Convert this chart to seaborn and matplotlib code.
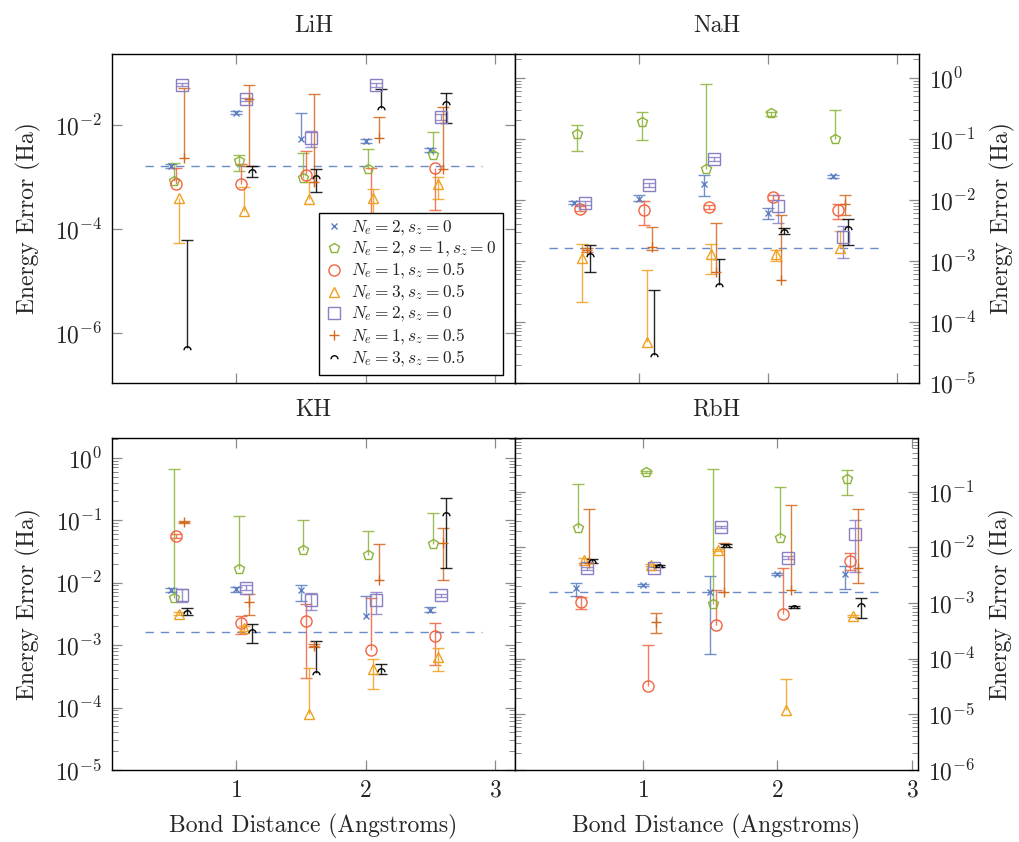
import numpy as np
import matplotlib
matplotlib.use("Agg")
import matplotlib.pyplot as plt
from matplotlib.path import Path
from matplotlib.ticker import FixedLocator, LogLocator, LogFormatterSciNotation, NullLocator, NullFormatter
import seaborn as sns

# bond distances (Angstrom), each series is shifted a little to the right
BOND = [0.5, 1.0, 1.5, 2.0, 2.5]
SHIFT = 0.02
CHEM_ACC = 1.6e-3

LABELS = [r"$N_e=2, s_z=0$", r"$N_e=2, s=1, s_z=0$", r"$N_e=1, s_z=0.5$",
          r"$N_e=3, s_z=0.5$", r"$N_e=2, s_z=0$", r"$N_e=1, s_z=0.5$",
          r"$N_e=3, s_z=0.5$"]
COLORS = ["#5b7dc2", "#8cb43a", "#f26440", "#f0a020", "#8b7fc4", "#d2691e", "#000000"]

# values, lower and upper ends of the bars; rows = series, cols = bond distance
LIH_VAL = [[1.6e-3, 0.0173, 5.3e-3, 5.0e-3, 3.3e-3],
           [8.4e-4, 2.0e-3, 9.8e-4, 1.4e-3, 2.6e-3],
           [7.2e-4, 7.2e-4, 1.1e-3, 1.0e-4, 1.5e-3],
           [3.9e-4, 2.2e-4, 3.8e-4, 4.0e-4, 7.2e-4],
           [0.060, 0.031, 5.7e-3, 0.059, 0.0145],
           [2.3e-3, 0.031, 7.9e-4, 5.7e-3, 1.4e-3],
           [5.1e-7, 1.3e-3, 1.0e-3, 0.021, 0.027]]
LIH_LO = [[1.5e-3, 0.0160, 5.3e-3, 4.6e-3, 3.0e-3],
          [8.4e-4, 1.3e-3, 9.8e-4, 1.4e-3, 2.6e-3],
          [7.2e-4, 7.2e-4, 1.1e-3, 1.0e-4, 2.3e-4],
          [5.5e-5, 2.2e-4, 3.8e-4, 1.0e-4, 3.8e-4],
          [0.056, 0.029, 3.8e-3, 0.055, 0.0125],
          [2.3e-3, 1.6e-3, 7.9e-4, 5.7e-3, 1.4e-3],
          [5.1e-7, 1.0e-3, 5.1e-4, 0.021, 0.011]]
LIH_HI = [[1.8e-3, 0.0185, 0.0168, 5.5e-3, 3.6e-3],
          [1.9e-3, 2.6e-3, 2.9e-3, 3.5e-3, 7.2e-3],
          [1.5e-3, 1.8e-3, 3.2e-3, 1.5e-3, 1.5e-3],
          [3.9e-4, 6.5e-4, 7.9e-4, 5.8e-4, 1.0e-3],
          [0.064, 0.033, 7.6e-3, 0.063, 0.0165],
          [0.051, 0.060, 0.040, 0.014, 0.022],
          [6.2e-5, 1.6e-3, 1.4e-3, 0.049, 0.042]]

NAH_VAL = [[8.9e-3, 0.0105, 0.018, 6.1e-3, 0.0245],
           [0.12, 0.19, 0.032, 0.26, 0.10],
           [7.2e-3, 6.7e-3, 7.6e-3, 0.011, 6.7e-3],
           [1.1e-3, 4.7e-5, 1.3e-3, 1.3e-3, 1.6e-3],
           [8.9e-3, 0.0177, 0.046, 7.9e-3, 2.5e-3],
           [1.5e-3, 1.7e-3, 6.5e-4, 4.8e-4, 8.7e-3],
           [1.25e-3, 2.9e-5, 4.1e-4, 3.1e-3, 3.4e-3]]
NAH_LO = [[8.4e-3, 9.5e-3, 0.0114, 4.9e-3, 0.023],
          [0.064, 0.095, 0.032, 0.24, 0.10],
          [6.6e-3, 3.9e-3, 7.0e-3, 0.010, 4.8e-3],
          [2.1e-4, 4.7e-5, 6.1e-4, 1.0e-3, 1.6e-3],
          [8.3e-3, 0.0165, 0.043, 4.2e-3, 1.1e-3],
          [1.4e-3, 1.5e-3, 6.5e-4, 4.8e-4, 5.6e-3],
          [6.5e-4, 2.9e-5, 4.1e-4, 2.8e-3, 1.8e-3]]
NAH_HI = [[9.4e-3, 0.0118, 0.026, 7.4e-3, 0.026],
          [0.17, 0.28, 0.80, 0.28, 0.30],
          [7.8e-3, 9.6e-3, 8.2e-3, 0.012, 8.5e-3],
          [1.9e-3, 7.1e-4, 1.9e-3, 1.5e-3, 3.1e-3],
          [9.6e-3, 0.019, 0.050, 0.0118, 3.7e-3],
          [1.6e-3, 3.6e-3, 4.1e-3, 5.6e-3, 0.0118],
          [1.8e-3, 3.4e-4, 1.07e-3, 3.4e-3, 4.8e-3]]

KH_VAL = [[7.6e-3, 7.8e-3, 7.6e-3, 2.9e-3, 3.7e-3],
          [5.7e-3, 0.0165, 0.033, 0.0276, 0.041],
          [0.056, 2.3e-3, 2.4e-3, 8.3e-4, 1.4e-3],
          [3.2e-3, 1.85e-3, 8.0e-5, 4.2e-4, 6.5e-4],
          [6.3e-3, 8.3e-3, 5.2e-3, 5.2e-3, 6.3e-3],
          [0.094, 4.9e-3, 9.8e-4, 0.011, 0.043],
          [3.4e-3, 1.7e-3, 3.6e-4, 4.0e-4, 0.125]]
KH_LO = [[7.0e-3, 7.2e-3, 5.1e-3, 2.9e-3, 3.4e-3],
         [5.7e-3, 0.0165, 0.033, 0.0276, 0.041],
         [0.052, 1.5e-3, 3.0e-4, 8.3e-4, 4.8e-4],
         [3.0e-3, 1.7e-3, 8.0e-5, 2.0e-4, 3.9e-4],
         [4.9e-3, 7.6e-3, 3.6e-3, 3.2e-3, 5.9e-3],
         [0.090, 3.0e-3, 9.3e-4, 0.011, 0.011],
         [3.0e-3, 1.1e-3, 3.6e-4, 3.4e-4, 0.017]]
KH_HI = [[8.2e-3, 8.4e-3, 9.3e-3, 6.0e-3, 4.0e-3],
         [0.67, 0.118, 0.10, 0.068, 0.13],
         [0.060, 2.9e-3, 4.5e-3, 5.7e-3, 2.3e-3],
         [3.4e-3, 2.0e-3, 4.3e-4, 6.1e-4, 8.9e-4],
         [7.8e-3, 9.0e-3, 6.9e-3, 7.1e-3, 6.7e-3],
         [0.098, 6.7e-3, 1.03e-3, 0.042, 0.075],
         [3.9e-3, 2.2e-3, 1.15e-3, 4.9e-4, 0.23]]

RBH_VAL = [[1.9e-3, 2.1e-3, 1.6e-3, 3.3e-3, 3.3e-3],
           [0.022, 0.23, 9.8e-4, 0.0149, 0.17],
           [1.05e-3, 3.2e-5, 4.0e-4, 6.3e-4, 5.7e-3],
           [5.9e-3, 4.8e-3, 8.9e-3, 1.2e-5, 5.9e-4],
           [4.2e-3, 4.2e-3, 0.023, 6.5e-3, 0.0174],
           [5.2e-3, 4.6e-4, 1.6e-3, 1.7e-3, 4.2e-3],
           [5.7e-3, 4.6e-3, 0.0107, 8.5e-4, 9.1e-4]]
RBH_LO = [[1.35e-3, 2.0e-3, 1.2e-4, 3.2e-3, 1.8e-3],
          [0.022, 0.22, 9.8e-4, 0.0149, 0.087],
          [7.8e-4, 3.2e-5, 4.0e-4, 6.3e-4, 3.9e-3],
          [5.3e-3, 4.6e-3, 8.5e-3, 1.2e-5, 5.6e-4],
          [3.9e-3, 3.9e-3, 0.022, 6.1e-3, 3.6e-3],
          [5.2e-3, 2.9e-4, 1.6e-3, 1.7e-3, 2.3e-3],
          [5.2e-3, 4.4e-3, 0.0101, 8.0e-4, 5.5e-4]]
RBH_HI = [[2.3e-3, 2.2e-3, 3.1e-3, 3.4e-3, 4.6e-3],
          [0.14, 0.24, 0.26, 0.123, 0.25],
          [1.3e-3, 1.8e-4, 1.7e-3, 4.2e-3, 7.8e-3],
          [6.4e-3, 5.0e-3, 9.3e-3, 4.3e-5, 6.2e-4],
          [4.5e-3, 4.5e-3, 0.024, 6.9e-3, 0.031],
          [0.049, 6.7e-4, 0.0118, 0.058, 0.049],
          [6.2e-3, 4.8e-3, 0.0113, 9.0e-4, 1.25e-3]]

sns.set_theme(style="ticks")
plt.rcParams["font.family"] = ["cmr10", "DejaVu Serif"]
plt.rcParams["mathtext.fontset"] = "cm"
plt.rcParams["axes.formatter.use_mathtext"] = True
plt.rcParams["axes.unicode_minus"] = False
FS = 17

# open arch marker for the last series
arc = Path.arc(0, 180)
ARCH = Path(arc.vertices - np.array([0.0, 0.5]), arc.codes)
MARKERS = ["x", "p", "o", "^", "s", "+", ARCH]
SIZES = [5, 7, 8, 7, 8, 7, 5]


def draw_panel(ax, vals, lows, highs, line_end):
    handles = []
    for i in range(7):
        x = np.array(BOND) + SHIFT * i
        v = np.array(vals[i])
        err = np.vstack([v - np.array(lows[i]), np.array(highs[i]) - v])
        c = ax.errorbar(x, v, yerr=err, marker=MARKERS[i], linestyle="none",
                        color=COLORS[i], mfc="none", mec=COLORS[i], ms=SIZES[i],
                        mew=1.0, elinewidth=1.0, capsize=4, capthick=1.0,
                        zorder=3)
        c[2][0].set_alpha(0.85)
        # no cap on the side where the bar has zero length
        for cap in c[1]:
            yd = np.asarray(cap.get_ydata(), dtype=float)
            cap.set_ydata(np.where(np.isclose(yd, v), np.nan, yd))
            cap.set_alpha(0.85)
        handles.append(c[0])
    ax.plot([0.3, line_end], [CHEM_ACC, CHEM_ACC], ls=(0, (6, 5)),
            color="#6a8cc8", lw=1.0, zorder=2)
    return handles


fig = plt.figure(figsize=(10.19, 8.42), dpi=100)
W, H = 1019, 842
panels = [
    ("LiH", LIH_VAL, LIH_LO, LIH_HI, [112, 54, 515, 383], (0.042, 3.154), (1.1e-7, 0.232), "left", 2.9),
    ("NaH", NAH_VAL, NAH_LO, NAH_HI, [515, 54, 919, 383], (0.039, 3.17), (1e-5, 2.45), "right", 2.9),
    ("KH", KH_VAL, KH_LO, KH_HI, [112, 438, 515, 770], (0.042, 3.154), (1e-5, 2.07), "left", 2.9),
    ("RbH", RBH_VAL, RBH_LO, RBH_HI, [515, 438, 918, 770], (0.048, 3.045), (1e-6, 0.925), "right", 2.8),
]

for k, (name, vals, lows, highs, box, xl, yl, side, xend) in enumerate(panels):
    x0, y0, x1, y1 = box
    ax = fig.add_axes([x0 / W, 1 - y1 / H, (x1 - x0) / W, (y1 - y0) / H])
    ax.set_yscale("log")
    handles = draw_panel(ax, vals, lows, highs, xend)
    ax.set_xlim(*xl)
    ax.set_ylim(*yl)
    ax.set_xticks([1, 2, 3])
    if name == "LiH":
        ax.yaxis.set_major_locator(FixedLocator([1e-6, 1e-4, 1e-2]))
        ax.yaxis.set_minor_locator(NullLocator())
    else:
        ax.yaxis.set_major_locator(LogLocator(base=10, numticks=20))
        ax.yaxis.set_minor_locator(LogLocator(base=10, subs=np.arange(2, 10), numticks=20))
        ax.yaxis.set_minor_formatter(NullFormatter())
    ax.yaxis.set_major_formatter(LogFormatterSciNotation())
    ax.tick_params(which="both", direction="in", top=True, bottom=True,
                   left=True, right=True, color="#8a8a8a", labelsize=FS)
    ax.tick_params(which="major", length=7, width=0.9, pad=7)
    ax.tick_params(which="minor", length=4, width=0.7)
    if side == "right":
        ax.tick_params(labelleft=False, labelright=True)
        ax.yaxis.set_label_position("right")
    ax.set_ylabel("Energy Error (Ha)", fontsize=FS, labelpad=10)
    if k < 2:
        ax.tick_params(labelbottom=False)
    else:
        ax.set_xlabel("Bond Distance (Angstroms)", fontsize=FS, labelpad=9)
    ax.set_title(name, fontsize=FS, pad=16)
    for sp in ax.spines.values():
        sp.set_color("black")
        sp.set_linewidth(1.0)
    ax.grid(False)
    if name == "LiH":
        leg = ax.legend(handles, LABELS, loc="lower right", bbox_to_anchor=(0.97, 0.025),
                        borderaxespad=0, fontsize=12.5, fancybox=False, framealpha=1,
                        edgecolor="black", handlelength=1.0, handletextpad=0.5,
                        labelspacing=0.12, borderpad=0.35)
        leg.get_frame().set_linewidth(1.0)
        leg.set_zorder(10)

fig.savefig("out.png", dpi=100)
